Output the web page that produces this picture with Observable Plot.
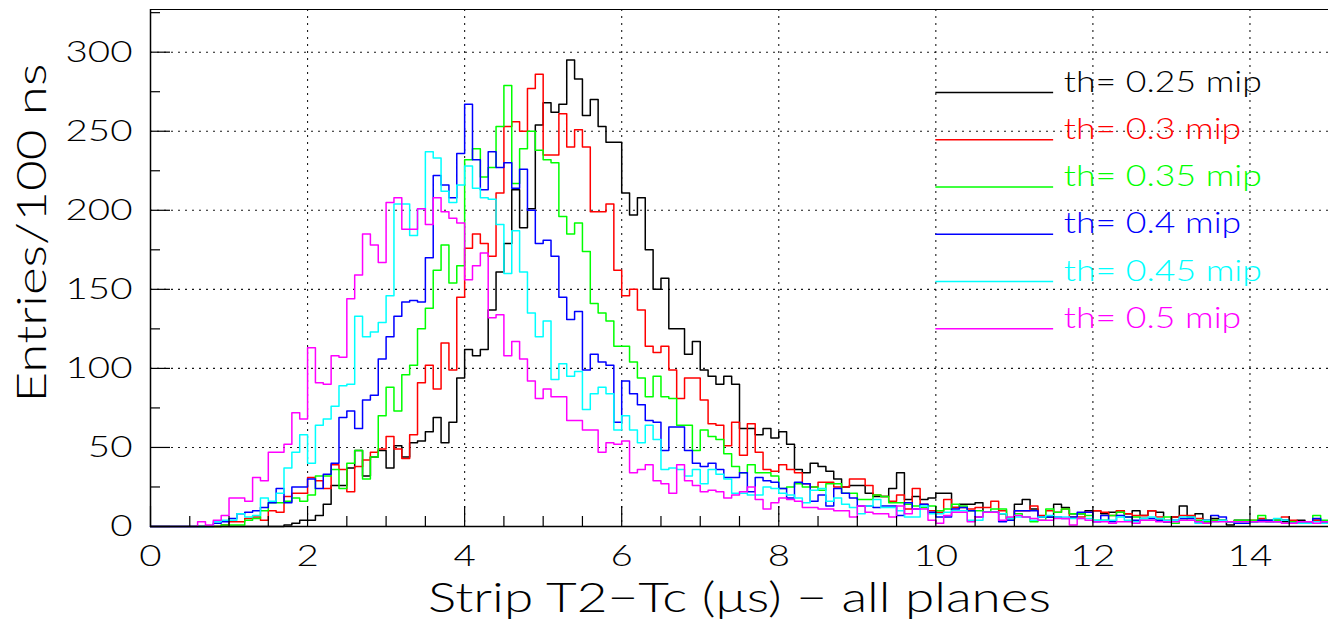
<!DOCTYPE html>
<html><head><meta charset="utf-8">
<script src="https://cdn.jsdelivr.net/npm/d3@7"></script>
<script src="https://cdn.jsdelivr.net/npm/@observablehq/plot@0.6"></script>
<style>body{margin:0;background:#fff} svg{display:block}</style>
</head><body><div id="chart"></div>
<script>
// ---- data (entries per 100 ns bin, bins 0.0-15.0 us) ----
const binWidth = 0.1;
const xDomain = [0, 15];
const yDomain = [0, 327];
const seriesLabels = ["th= 0.25 mip","th= 0.3 mip","th= 0.35 mip","th= 0.4 mip","th= 0.45 mip","th= 0.5 mip"];
const seriesColors = ["#000000","#ff0000","#00ff00","#0000ff","#00ffff","#ff00ff"];
const xTickLabels = [0,2,4,6,8,10,12,14];
const xMinorTicks = [0.5,1,1.5,2.5,3,3.5,4.5,5,5.5,6.5,7,7.5,8.5,9,9.5,10.5,11,11.5,12.5,13,13.5,14.5];
const yTickLabels = [0,50,100,150,200,250,300];
const yMinorTicks = [25,75,125,175,225,275,325];
const xTitle = "Strip T2\u2212Tc (\u03bcs) \u2212 all planes";
const yTitle = "Entries/100 ns";

const th025 = [
0,0,0,0,0,0,0,0,0,0,
0,0,0,0,0,0,0,1,2,4,
4,7,14,26,26,37,48,32,44,48,
37,51,44,53,54,60,69,53,66,94,
112,108,112,137,161,179,213,189,201,254,
268,262,267,295,283,260,270,253,243,243,
211,197,208,175,150,157,125,125,109,117,
99,95,90,95,90,62,62,58,62,56,
60,52,36,34,40,38,35,30,25,26,
26,21,19,19,24,34,17,19,17,18,
21,21,12,14,14,15,9,9,8,5,
14,17,11,6,6,14,12,8,8,10,
10,8,9,10,8,10,7,10,9,3,
6,13,6,8,2,5,4,1,4,4,
3,4,3,4,3,3,4,3,4,3];
const th030 = [
0,0,0,0,0,0,0,0,0,1,
3,3,5,6,4,10,9,19,21,21,
31,29,24,39,36,22,38,42,47,49,
57,49,43,58,91,102,87,116,99,145,
176,185,179,171,211,253,256,250,277,286,
235,235,261,240,251,240,199,199,204,162,
146,150,137,114,110,114,99,81,94,94,
80,65,64,51,66,45,65,47,36,35,
39,36,34,27,25,28,28,25,25,30,
30,26,20,19,16,20,11,24,14,10,
9,17,12,12,11,12,12,16,10,5,
10,10,13,7,10,9,11,6,6,9,
10,9,7,10,8,7,7,10,6,4,
6,7,7,5,4,4,4,3,3,3,
4,5,4,4,6,4,3,3,4,2];
const th035 = [
0,0,0,0,0,0,0,0,0,1,
1,1,4,5,10,15,15,16,18,16,
20,32,32,36,24,40,48,30,44,70,
88,73,96,102,125,138,162,178,154,165,
232,239,221,227,253,279,217,239,250,238,
232,230,196,185,192,174,141,135,130,114,
114,104,94,82,95,82,81,64,64,48,
61,57,55,46,38,34,39,34,34,32,
24,25,27,25,25,23,27,27,21,21,
17,17,20,19,15,15,14,13,12,13,
10,11,14,13,10,10,9,11,11,5,
8,6,3,4,11,9,11,8,8,7,
4,4,7,9,6,6,5,5,4,6,
2,4,5,4,3,4,4,3,4,4,
4,7,4,4,4,3,3,3,7,4];
const th040 = [
0,0,0,0,0,0,0,0,2,3,
5,8,9,10,12,15,24,15,25,25,
30,24,33,40,69,73,62,80,83,106,
120,133,142,143,142,170,222,216,208,236,
267,232,213,237,227,230,214,226,200,179,
181,171,145,131,136,99,109,104,102,66,
92,84,77,67,66,48,63,63,48,40,
38,40,36,31,31,34,22,31,29,28,
24,18,28,27,16,20,13,24,21,18,
13,13,12,13,13,7,15,11,14,9,
6,6,11,12,10,6,9,9,3,4,
10,10,10,6,6,6,5,6,9,9,
3,7,3,7,6,4,5,5,4,3,
4,5,5,3,4,7,6,3,2,2,
3,4,4,3,4,2,3,3,5,3];
const th045 = [
0,0,0,0,0,0,0,0,3,4,
4,8,6,7,18,16,21,37,47,58,
40,64,68,76,89,90,133,120,123,129,
146,204,204,184,201,237,233,212,205,216,
228,214,208,207,191,160,187,161,135,120,
130,93,103,95,98,74,84,88,84,61,
70,61,53,64,55,36,37,36,32,36,
27,36,33,30,21,21,20,20,25,24,
21,20,18,15,23,24,16,18,14,12,
8,13,17,12,12,10,6,6,13,8,
8,9,10,10,4,4,9,9,8,5,
6,6,4,6,7,6,6,5,5,5,
4,4,4,6,4,3,5,6,5,4,
4,6,6,2,4,3,4,3,3,3,
3,3,3,5,4,2,2,2,3,2];
const th050 = [
0,0,0,0,0,0,3,1,4,7,
18,18,16,31,29,47,47,52,72,68,
113,91,90,108,107,144,159,185,178,167,
205,208,188,188,201,191,208,199,195,192,
156,165,173,132,134,108,117,106,92,81,
87,82,82,67,67,61,61,47,53,52,
54,34,36,39,29,27,21,39,29,26,
22,23,22,18,20,22,25,17,11,15,
18,17,16,12,12,11,11,10,10,6,
13,9,8,8,6,13,8,11,11,4,
2,7,9,9,3,6,9,9,4,6,
7,6,5,4,4,5,5,1,5,4,
3,3,2,3,3,2,4,4,3,3,
3,4,4,3,2,3,3,3,3,3,
3,3,3,3,2,2,3,3,2,3];

const seriesValues = [th025, th030, th035, th040, th045, th050];

// ---- layout ----
const W = 1328, H = 626, mL = 150, mR = 0, mT = 9, mB = 100;
const frameW = W - mL - mR, frameH = H - mT - mB;
const FONT = "Lato, Roboto, 'DejaVu Sans', sans-serif";

const seriesRows = seriesValues.map((arr) => {
  const r = arr.map((v, i) => ({x: xDomain[0] + i * binWidth, y: v}));
  r.push({x: xDomain[0] + arr.length * binWidth, y: arr[arr.length - 1]});
  return r;
});

const legendRows = seriesLabels.map((label, i) => ({label, color: seriesColors[i], y: 274.5 - 29.9 * i}));

const marks = [
  Plot.gridX(xTickLabels.filter(d => d > 0), {stroke: "#000", strokeOpacity: 0.9, strokeWidth: 1.1, strokeDasharray: "2,5"}),
  Plot.gridY(yTickLabels.filter(d => d > 0), {stroke: "#000", strokeOpacity: 0.9, strokeWidth: 1.1, strokeDasharray: "2,5"}),
];
seriesRows.forEach((rows, s) => {
  marks.push(Plot.line(rows, {x: "x", y: "y", curve: "step-after", stroke: seriesColors[s], strokeWidth: 1.5}));
});
marks.push(
  Plot.ruleX([xDomain[0]], {stroke: "#000", strokeWidth: 1.5}),
  Plot.ruleY([yDomain[0]], {stroke: "#000", strokeWidth: 1.5}),
  Plot.ruleY([yDomain[1]], {stroke: "#000", strokeWidth: 1.2}),
  Plot.tickY(yTickLabels, {y: d => d, stroke: "#000", strokeWidth: 1.2, insetRight: frameW - 20}),
  Plot.tickY(yMinorTicks, {y: d => d, stroke: "#000", strokeWidth: 1.2, insetRight: frameW - 10}),
  Plot.tickX(xTickLabels, {x: d => d, stroke: "#000", strokeWidth: 1.2, insetTop: frameH - 20}),
  Plot.tickX(xMinorTicks, {x: d => d, stroke: "#000", strokeWidth: 1.2, insetTop: frameH - 10}),
  Plot.text(yTickLabels, {y: d => d, text: d => String(d), frameAnchor: "left", dx: -18, textAnchor: "end", lineAnchor: "middle", fontSize: 30, fill: "#000"}),
  Plot.text(xTickLabels, {x: d => d, text: d => String(d), frameAnchor: "bottom", dy: 30, lineAnchor: "middle", fontSize: 30, fill: "#000"}),
  Plot.text([xTitle], {text: d => d, frameAnchor: "bottom", dy: 72, lineAnchor: "middle", fontSize: 42, fill: "#000"}),
  Plot.text([yTitle], {text: d => d, frameAnchor: "bottom-left", dx: -118, dy: -124, rotate: -90, textAnchor: "start", lineAnchor: "middle", fontSize: 42, fill: "#000"}),
  Plot.ruleY(legendRows, {y: "y", x1: 10.0, x2: 11.5, stroke: "color", strokeWidth: 1.5}),
  Plot.text(legendRows, {x: 11.63, y: "y", text: "label", fill: "color", textAnchor: "start", lineAnchor: "bottom", dy: -1, fontSize: 29})
);

const chart = Plot.plot({
  width: W, height: H,
  marginLeft: mL, marginRight: mR, marginTop: mT, marginBottom: mB,
  x: {domain: xDomain, axis: null},
  y: {domain: yDomain, axis: null},
  color: {type: "identity"},
  style: {fontFamily: FONT, fontWeight: 300, background: "#fff", overflow: "visible"},
  marks
});
document.getElementById("chart").appendChild(chart);

// widen glyphs so each text group matches the reference's measured widths
const widthTargets = {30: ["300", 67], 29: ["th= 0.25 mip", 198], 42: [xTitle, 623]};
const texts = [];
d3.select(chart).selectAll("text").each(function() {
  const g = this.closest("[font-size]");
  const fs = g ? parseFloat(g.getAttribute("font-size")) : 10;
  texts.push({el: this, fs, w: this.getComputedTextLength(), t: this.textContent});
});
const kByFs = {};
for (const fs in widthTargets) {
  const [ref, target] = widthTargets[fs];
  const hit = texts.find(d => d.fs === +fs && d.t === ref);
  kByFs[fs] = hit && hit.w > 0 ? target / hit.w : 1;
}
texts.forEach(d => {
  const k = kByFs[d.fs] || 1;
  if (d.w > 0 && Math.abs(k - 1) > 0.01) {
    d.el.setAttribute("textLength", (d.w * k).toFixed(1));
    d.el.setAttribute("lengthAdjust", "spacingAndGlyphs");
  }
});
</script>
</body></html>
